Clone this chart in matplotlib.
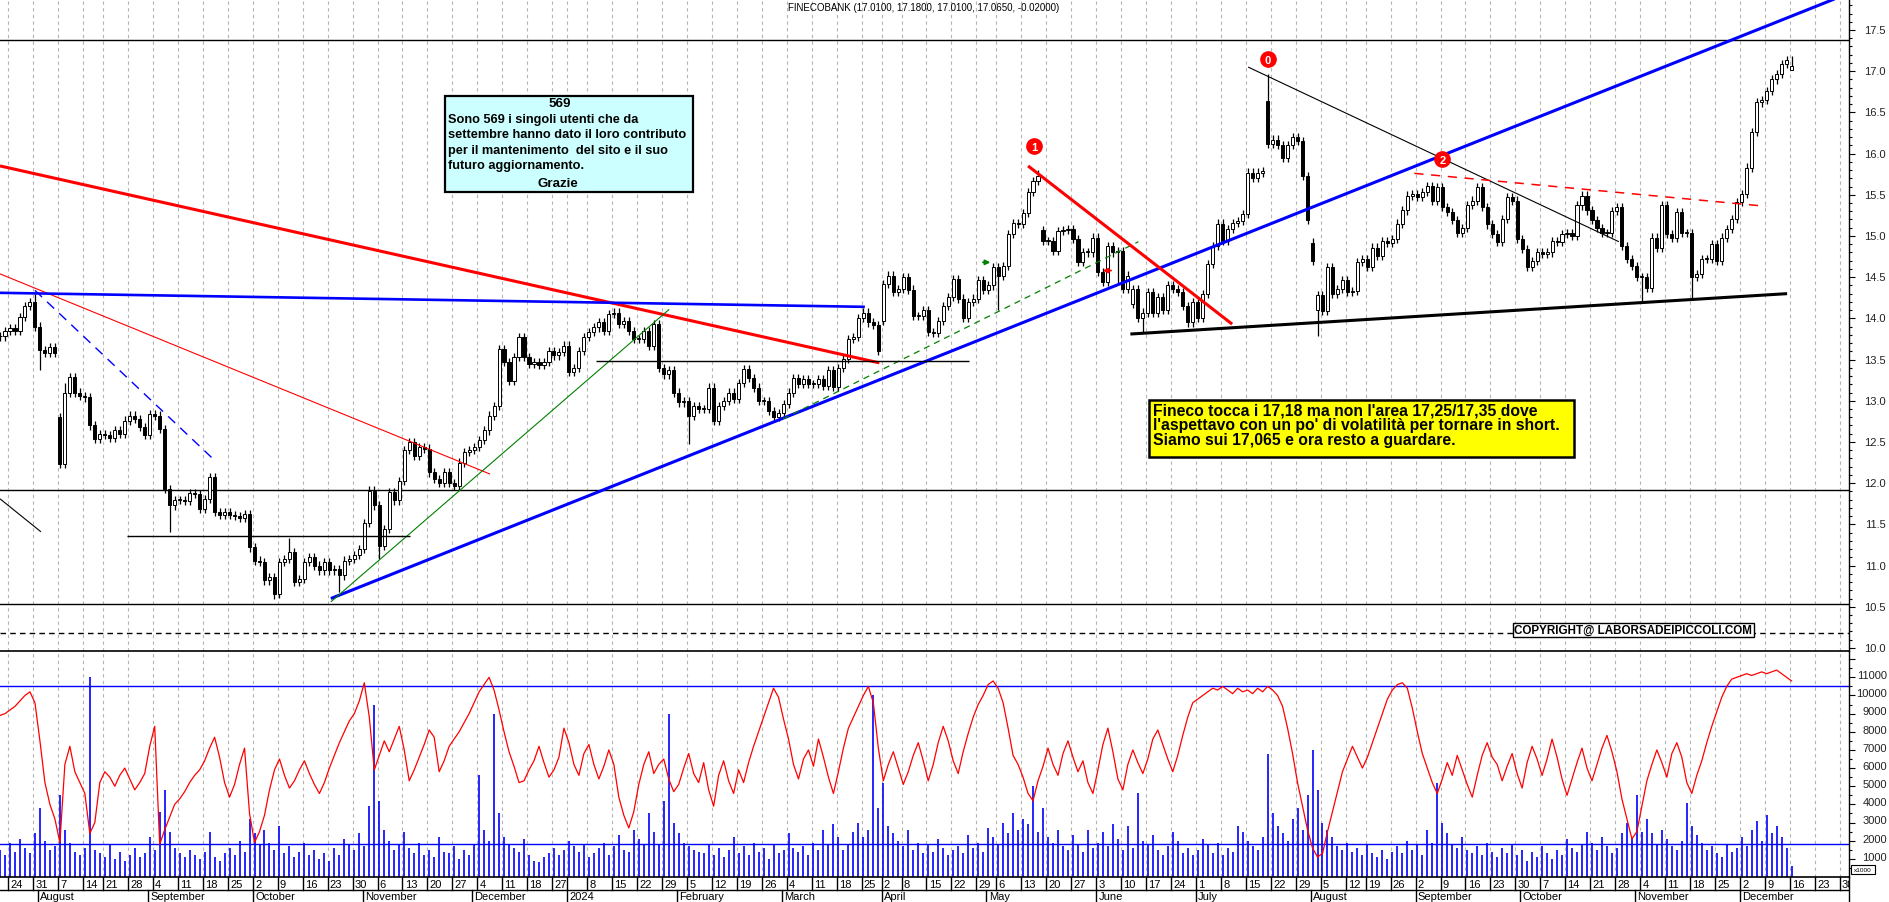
import matplotlib.pyplot as plt
import numpy as np
import pandas as pd
from matplotlib.patches import Rectangle

W, H = 1890, 903
RIGHT = 1849   # pixel x of the price scale

# daily closes, 20 Jul 2023 .. 16 Dec 2024
close = [
    13.78, 13.85, 13.88, 13.85, 14.02, 14.15, 14.20, 13.90, 13.62, 13.58,
    13.65, 13.58, 12.23, 13.10, 13.29, 13.10, 13.06, 13.04, 12.70, 12.54,
    12.60, 12.58, 12.55, 12.64, 12.60, 12.76, 12.82, 12.78, 12.68, 12.58,
    12.84, 12.82, 12.66, 11.93, 11.73, 11.80, 11.80, 11.78, 11.88, 11.87,
    11.69, 11.81, 12.07, 11.65, 11.61, 11.65, 11.61, 11.60, 11.58, 11.63,
    11.22, 11.06, 11.04, 10.82, 10.86, 10.66, 11.04, 11.08, 11.16, 10.80,
    10.84, 11.04, 11.10, 11.00, 10.94, 11.04, 10.94, 10.96, 10.88, 11.06,
    11.08, 11.13, 11.20, 11.52, 11.91, 11.73, 11.24, 11.44, 11.89, 11.79,
    12.03, 12.40, 12.50, 12.33, 12.44, 12.42, 12.13, 12.05, 12.00, 12.13,
    12.00, 11.97, 12.25, 12.38, 12.40, 12.44, 12.52, 12.64, 12.82, 12.94,
    13.63, 13.47, 13.24, 13.53, 13.77, 13.53, 13.45, 13.47, 13.43, 13.47,
    13.60, 13.55, 13.59, 13.67, 13.35, 13.40, 13.60, 13.77, 13.83, 13.89,
    13.95, 13.85, 14.05, 14.07, 13.93, 13.97, 13.85, 13.75,
    13.75, 13.85, 13.67, 13.93, 13.40, 13.32, 13.37, 13.10, 12.98, 13.00,
    12.82, 12.94, 12.90, 12.90, 13.16, 12.76, 12.94, 13.00, 13.10, 13.02,
    13.22, 13.38, 13.28, 13.16, 13.00, 13.00, 12.88, 12.80, 12.85, 12.96,
    13.10, 13.28, 13.20, 13.26, 13.20, 13.20, 13.26, 13.18, 13.37, 13.17,
    13.40, 13.51, 13.75, 13.77, 14.00, 14.07, 13.95, 13.92, 13.61, 14.42,
    14.52, 14.32, 14.36, 14.50, 14.35, 14.03, 14.03, 14.10, 13.83, 13.82,
    13.97, 14.15, 14.26, 14.48, 14.24, 14.00, 14.20, 14.24, 14.46, 14.34,
    14.40, 14.62, 14.52, 14.64, 15.02, 15.16, 15.15, 15.28, 15.53, 15.67,
    15.73, 14.94, 14.94, 14.82, 15.06, 15.07, 15.08, 14.96, 14.68, 14.80,
    14.80, 14.98, 14.56, 14.44, 14.88, 14.80, 14.82, 14.36, 14.52, 14.36,
    14.00, 14.07, 14.32, 14.07, 14.26, 14.10, 14.40, 14.36, 14.32, 14.15,
    13.95, 14.20, 14.00, 14.30, 14.66, 14.88, 15.15, 14.94, 15.08, 15.16,
    15.18, 15.27,
    15.77, 15.70, 15.77, 15.79, 16.12, 16.17, 16.10, 15.95, 16.10, 16.20,
    16.15, 15.73, 15.19, 14.70, 14.28, 14.09, 14.62, 14.30, 14.36, 14.46,
    14.32, 14.33, 14.68, 14.72, 14.62, 14.86, 14.76, 14.94, 14.92, 14.96,
    15.15, 15.31, 15.49, 15.51, 15.47, 15.53, 15.61, 15.43, 15.59, 15.35,
    15.29, 15.19, 15.04, 15.10, 15.38, 15.43, 15.59, 15.35, 15.14, 15.02,
    14.93, 15.21, 15.47, 15.43, 14.96, 14.84, 14.62, 14.70, 14.80, 14.78,
    14.80, 14.94, 14.93, 15.02, 15.04, 15.00, 15.37, 15.49, 15.31, 15.19,
    15.10, 15.04, 15.04, 15.30, 15.35, 14.88, 14.72, 14.64, 14.50, 14.50,
    14.37, 14.98, 14.86, 15.37, 15.02, 14.98, 15.29, 15.04, 15.04, 14.50,
    14.54, 14.72, 14.72, 14.90, 14.70, 14.98, 15.08, 15.21, 15.41, 15.51,
    15.83, 16.26, 16.62, 16.65, 16.76, 16.90, 16.97, 17.09, 17.13, 17.065,
]
# opens that differ from the previous close (gaps)
open_gap = {"2023-08-07": 12.80, "2024-04-02": 13.97, "2024-05-17": 15.07,
            "2024-06-12": 14.18, "2024-07-19": 16.64, "2024-08-01": 14.92,
            "2024-08-02": 14.10, "2024-12-16": 17.01}
high_fix = {"2023-07-31": 14.30, "2023-08-08": 13.22, "2023-10-11": 11.34,
            "2024-05-16": 15.80, "2024-07-19": 16.97, "2024-12-16": 17.18}
low_fix = {"2023-08-01": 13.37, "2023-09-07": 11.41, "2023-10-06": 10.60,
           "2023-10-25": 10.68, "2023-11-06": 11.08, "2024-02-05": 12.48,
           "2024-05-06": 14.10, "2024-06-07": 14.40, "2024-06-14": 13.83,
           "2024-08-02": 13.79, "2024-11-04": 14.19, "2024-11-18": 14.23,
           "2024-12-16": 17.01}

# volume (x1000) and the red oscillator drawn in the lower panel
volume = [
    1500, 1200, 1900, 1400, 2100, 1600, 1300, 2400, 3800, 2000,
    1500, 1700, 4500, 2600, 1900, 1400, 1200, 1600, 11000, 1500,
    1300, 1100, 1800, 1000, 1400, 900, 1200, 1600, 1100, 1300,
    2200, 1500, 3600, 4800, 2500, 1600, 1300, 1100, 1500, 1200,
    1000, 1400, 2500, 1100, 900, 1300, 1600, 1200, 2000, 1400,
    3200, 2400, 1800, 2600, 1900, 1500, 2800, 1300, 1700, 1100,
    1400, 1900, 1200, 1500, 1000, 1300, 900, 1600, 1200, 2100,
    1800, 1500, 2400, 1700, 3900, 9500, 4200, 2600, 2000, 1500,
    1800, 2500, 1600, 1300, 1900, 1200, 1500, 1100, 2200, 1400,
    1300, 1700, 1000, 1500, 1200, 1800, 5600, 2600, 2000, 9000,
    3500, 2200, 1800, 1600, 1400, 2100, 1200, 900, 800, 1100,
    1300, 1600, 1200, 1500, 2000, 1700, 1400, 1800, 1100, 1300,
    1600, 1900, 1200, 1700, 2300, 1500, 1400, 2600, 2100, 1800,
    3500, 2500, 1800, 4200, 9000, 3000, 2400, 1900, 1700, 1500,
    1400, 1300, 1800, 1200, 1600, 1100, 1500, 2200, 1300, 1700,
    1200, 1900, 1400, 1600, 1000, 1800, 1300, 1500, 2400, 1600,
    1400, 1700, 1200, 1900, 1500, 2600, 1800, 2900, 2200, 1500,
    1800, 2500, 3000, 2200, 2600, 10000, 3800, 5200, 2800, 2400,
    2000, 1700, 2600, 1500, 1900, 1300, 1800, 1400, 2100, 1600,
    1200, 1500, 1700, 1300, 2300, 1600, 1900, 1400, 2700, 2200,
    1800, 3000, 2400, 3500, 2600, 3200, 2900, 5000, 2500, 3800,
    2200, 1900, 2600, 1700, 1500, 2300, 1800, 1400, 2600, 1600,
    1900, 2500, 1700, 2900, 2100, 1500, 2800, 1600, 4600, 2000,
    1800, 2300, 1500, 1200, 1700, 2500, 2000, 1300, 1600, 1200,
    1500, 2100, 1800, 1300, 1900, 1200, 1600, 1400, 2800, 2500,
    2000, 1700, 1500, 2200, 6800, 3500, 2800, 2400, 2000, 3200,
    3800, 2600, 4500, 7000, 4800, 3000, 2600, 2200, 1700, 1500,
    1900, 1400, 1600, 1200, 1800, 1300, 1100, 1500, 1000, 1400,
    1700, 1300, 2000, 1500, 1800, 1200, 2600, 1900, 5200, 3000,
    2400, 1800, 1600, 2200, 1500, 1300, 1700, 1200, 1900, 1400,
    1100, 1600, 1300, 1800, 1200, 1500, 900, 1400, 1100, 1700,
    1300, 1000, 1500, 1200, 2100, 1600, 1400, 1800, 2500, 1900,
    1500, 2200, 1700, 1300, 1600, 2400, 3000, 2200, 4500, 2500,
    3200, 2400, 1800, 2600, 2100, 1700, 1500, 2000, 4100, 2800,
    2300, 1900, 1500, 1700, 1300, 1100, 1800, 1400, 1600, 2200,
    1700, 2600, 3100, 2000, 3400, 2400, 2800, 2200, 1600, 600,
]
osc = [
    8900, 9000, 9200, 9400, 9700, 10000, 10200, 9600, 7500, 5200,
    4000, 3200, 1900, 6200, 7200, 5800, 5200, 4600, 2400, 3000,
    5200, 5800, 5500, 5000, 5600, 6000, 5400, 4800, 5200, 5700,
    7200, 8300, 1800, 2600, 3300, 4000, 4300, 4700, 5200, 5600,
    5900, 6400, 7100, 7700, 6600, 5200, 4400, 5100, 6200, 7100,
    3500, 1900, 2500, 3400, 4800, 5900, 6500, 5600, 4900, 5300,
    5900, 6400, 5700, 5100, 4600, 5200, 6000, 6700, 7400, 8000,
    8600, 9000, 9700, 10700, 8800, 5900, 6700, 7500, 6900, 7600,
    8300, 7000, 5300, 5900, 6600, 7300, 8100, 7700, 5800, 6400,
    7200, 7600, 8000, 8500, 9000, 9600, 10200, 10600, 11000, 10300,
    9200, 8000, 6900, 6100, 5200, 5300, 5900, 6400, 7200, 6300,
    5500, 5900, 6600, 8200, 7400, 6200, 5600, 6800, 7300, 6200,
    5400, 6100, 7000, 6200, 4400, 3400, 2700, 3600, 5100, 6200,
    6900, 5700, 6200, 6500, 5400, 4700, 5100, 6000, 6800, 5700,
    5200, 6300, 4800, 3900, 5600, 6400, 5300, 4600, 5900, 5200,
    6300, 7200, 8000, 8800, 9600, 10400, 9900, 8700, 7600, 6200,
    5400, 6500, 7000, 6100, 7600, 6600, 5500, 4600, 5800, 7100,
    8200, 8800, 9400, 10000, 10500, 9600, 7100, 5300, 6200, 6900,
    6000, 5100, 5800, 6700, 7400, 6400, 5300, 6200, 7400, 8300,
    7500, 6400, 5700, 6900, 7900, 8800, 9500, 10000, 10600, 10800,
    10400, 9600, 8200, 6700, 6200, 5500, 4600, 4200, 5300, 6100,
    7100, 6200, 5600, 6800, 7500, 6600, 5800, 6400, 5200, 4600,
    5900, 7300, 8200, 6900, 5400, 4800, 6200, 7000, 6300, 5700,
    6500, 7600, 8100, 7300, 6500, 5800, 6700, 7800, 8800, 9600,
    9800, 10000, 10200, 10400, 10300, 10500, 10300, 10100, 10400, 10200,
    10300, 10100, 10400, 10200, 10500, 10300, 10000, 9400, 8200, 6800,
    5200, 3900, 2600, 1600, 1100, 1300, 2500, 3600, 4700, 5800,
    6500, 7200, 6600, 6000, 6600, 7400, 8200, 9000, 9800, 10300,
    10600, 10700, 10400, 9300, 8000, 6800, 6000, 5200, 4600, 5400,
    6300, 5600, 6700, 5900, 5100, 4400, 5600, 6700, 7400, 6600,
    6200, 5300, 6100, 6800, 5700, 4900, 6300, 7200, 6500, 5600,
    6500, 7600, 6600, 5400, 4500, 5400, 6300, 7100, 6000, 5300,
    6200, 7100, 7800, 6900, 5800, 4300, 3200, 2100, 2500, 3900,
    5300, 6200, 7000, 6300, 5500, 6800, 7400, 6600, 5200, 4600,
    5600, 6400, 7400, 8300, 9100, 9900, 10500, 10900, 11000, 11100,
    11200, 11100, 11200, 11300, 11200, 11300, 11400, 11200, 11000, 10800,
]

holidays = pd.to_datetime(["2023-08-15", "2023-12-25", "2023-12-26", "2024-01-01",
                           "2024-03-29", "2024-04-01", "2024-05-01", "2024-08-15"])
days = pd.bdate_range("2023-07-20", "2024-12-16")
days = days[~days.isin(holidays)]
alldays = days.append(pd.bdate_range("2024-12-17", "2025-01-10"))
n = len(days)
pos = np.arange(n)

c = np.array(close)
o = np.r_[c[0], c[:-1]]
for d, v in open_gap.items():
    o[days.get_loc(pd.Timestamp(d))] = v
hi = np.maximum(o, c) + 0.05
lo = np.minimum(o, c) - 0.05
for d, v in high_fix.items():
    hi[days.get_loc(pd.Timestamp(d))] = v
for d, v in low_fix.items():
    lo[days.get_loc(pd.Timestamp(d))] = v

# figure layout in pixels
fig = plt.figure(figsize=(W / 100, H / 100), dpi=100)
fig.patch.set_facecolor("white")
aw = RIGHT / W
ax = fig.add_axes([0, 1 - 652 / H, aw, 652 / H])
axv = fig.add_axes([0, 1 - 878 / H, aw, 226 / H])
axd = fig.add_axes([0, 0, aw, 25 / H])
XL = (0, 370.5)
for a in (ax, axv, axd):
    a.set_xlim(*XL)
    a.set_facecolor("none")
ax.set_ylim(9.963, 17.876)
axv.set_ylim(0, 12450)
axd.set_ylim(0, 25)

font = ["Liberation Sans", "DejaVu Sans"]

# weekly and monthly boundaries
ser = pd.Series(np.arange(len(alldays)), index=alldays)
week_first = ser.groupby(alldays.to_period("W")).first()
week_days = ser.groupby(alldays.to_period("W")).apply(lambda s: s.index[0])
month_first = ser.groupby(alldays.to_period("M")).first()
month_days = ser.groupby(alldays.to_period("M")).apply(lambda s: s.index[0])

for p in week_first.values:
    for a in (ax, axv):
        a.axvline(p - 0.35, color="#b4b4b4", lw=0.8, ls=(0, (3, 3)), zorder=0)

# candles
up = c >= o
ax.vlines(pos, lo, hi, color="black", lw=0.9, zorder=3)
body = np.maximum(np.abs(c - o), 0.012)
ax.bar(pos, body, bottom=np.minimum(o, c), width=0.62,
       color=np.where(up, "white", "black"), edgecolor="black", lw=0.7, zorder=3)

# horizontal levels
for lev in (17.38, 11.92, 10.53):
    ax.axhline(lev, color="black", lw=1.0, zorder=2)
ax.axhline(10.18, color="black", lw=1.0, ls=(0, (4, 3)), zorder=2)

# trend lines (bar index, price)
def seg(p0, v0, p1, v1, **kw):
    ax.plot([p0, p1], [v0, v1], solid_capstyle="butt", zorder=4, **kw)

seg(0, 15.85, 176.2, 13.46, color="red", lw=2.2)
seg(0, 14.54, 98.2, 12.11, color="red", lw=0.8)
seg(7.0, 14.34, 43.3, 12.26, color="blue", lw=1.0, ls=(0, (7, 5)))
seg(0, 11.81, 8.2, 11.41, color="black", lw=0.8)
seg(0, 14.31, 173.3, 14.14, color="blue", lw=1.9)
seg(66.3, 10.60, 372, 10.60 + (372 - 66.3) * 0.02415, color="blue", lw=2.2)
seg(66.3, 10.56, 134.1, 14.11, color="green", lw=0.8)
seg(156.9, 12.78, 228.1, 14.93, color="green", lw=0.9, ls=(0, (5, 4)))
seg(25.5, 11.36, 82.2, 11.36, color="black", lw=1.0)
seg(119.4, 13.48, 194.2, 13.48, color="black", lw=1.0)
seg(206.0, 15.85, 246.9, 13.93, color="red", lw=2.2)
seg(226.5, 13.81, 358.1, 14.30, color="black", lw=2.2)
seg(250.1, 17.05, 324.4, 14.93, color="black", lw=0.8)
seg(283.4, 15.76, 353.9, 15.36, color="red", lw=1.1, ls=(0, (6, 5)))

for p, v, lab in ((207.2, 16.09, "1"), (254.0, 17.15, "0"), (289.0, 15.93, "2")):
    ax.plot(p, v, "o", ms=11, color="red", zorder=6)
    ax.text(p, v - 0.01, lab, color="white", fontsize=8, fontweight="bold",
            ha="center", va="center", zorder=7, family=font)
ax.annotate("", xy=(199.0, 14.68), xytext=(196.4, 14.68), zorder=6,
            arrowprops=dict(arrowstyle="-|>", color="green", lw=1.3, mutation_scale=7))
ax.annotate("", xy=(220.4, 14.58), xytext=(223.2, 14.58), zorder=6,
            arrowprops=dict(arrowstyle="-|>", color="red", lw=1.3, mutation_scale=7))

# lower panel
axv.vlines(pos, 0, volume, color="#0000ff", lw=1.2, zorder=2)
axv.plot(pos, osc, color="red", lw=0.9, zorder=3)
axv.axhline(10500, color="#0000ff", lw=1.0, zorder=2)
axv.axhline(1810, color="#0000ff", lw=1.0, zorder=2)

# right scales
for a in (ax, axv):
    for s in ("top", "left"):
        a.spines[s].set_visible(False)
    a.spines["right"].set_linewidth(1.0)
    a.spines["bottom"].set_linewidth(1.2)
    a.yaxis.tick_right()
    a.tick_params(axis="y", which="major", length=4.5, width=0.8, labelright=False)
    a.tick_params(axis="y", which="minor", length=2.2, width=0.8)
    a.tick_params(axis="x", bottom=False, labelbottom=False)
ax.set_yticks(np.arange(10.0, 17.51, 0.5))
ax.set_yticks(np.arange(10.0, 17.85, 0.1), minor=True)
for v in np.arange(10.0, 17.51, 0.5):
    ax.text(1886 / RIGHT, v, f"{v:.1f}", transform=ax.get_yaxis_transform(),
            ha="right", va="center", fontsize=8, color="#222222", family=font)
axv.set_yticks(np.arange(1000, 12001, 1000))
axv.set_yticks(np.arange(500, 12400, 500), minor=True)
for v in range(1000, 11001, 1000):
    axv.text(1887 / RIGHT, v + 120, str(v), transform=axv.get_yaxis_transform(),
             ha="right", va="center", fontsize=8, color="#222222", family=font)

# date rows
for s in ("top", "left", "bottom"):
    axd.spines[s].set_visible(False)
axd.spines["right"].set_linewidth(1.0)
axd.set_xticks([])
axd.set_yticks([])
axd.axhline(12.3, color="black", lw=1.0)
for p, d in zip(week_first.values, week_days.values):
    d = pd.Timestamp(d)
    if p == 0:
        continue
    x = p - 0.35
    axd.plot([x, x], [12.3, 25], color="black", lw=1.0, clip_on=True)
    if not (d.month == 1 and d.day <= 3):
        axd.text(x + 0.45, 18.4, str(d.day), fontsize=8, ha="left", va="center",
                 family=font, clip_on=True)
months = ["", "January", "February", "March", "April", "May", "June", "July",
          "August", "September", "October", "November", "December"]
for p, d in zip(month_first.values, month_days.values):
    d = pd.Timestamp(d)
    if p == 0:
        continue
    x = p - 0.35
    axd.plot([x, x], [0, 12.3], color="black", lw=1.0, clip_on=True)
    lab = str(d.year) if d.month == 1 else months[d.month]
    axd.text(x + 0.45, 5.6, lab, fontsize=8, ha="left", va="center",
             family=font, clip_on=True)

# title, notes and boxes (pixel coordinates)
def box(x0, y0, x1, y1, fc, lw):
    fig.add_artist(Rectangle((x0 / W, 1 - y1 / H), (x1 - x0) / W, (y1 - y0) / H,
                             transform=fig.transFigure, facecolor=fc,
                             edgecolor="black", lw=lw, zorder=10))

def ptext(x, y, s, **kw):
    fig.text(x / W, 1 - y / H, s, va="center", zorder=11, **kw)

ptext(924, 8, "FINECOBANK (17.0100, 17.1800, 17.0100, 17.0650, -0.02000)",
      ha="center", fontsize=7, family=font)

box(445, 97, 693, 193, "#ccffff", 1.6)
ptext(560, 104, "569", ha="center", fontsize=9.6, fontweight="bold", family=font)
note = ["Sono 569 i singoli utenti che da",
        "settembre hanno dato il loro contributo",
        "per il mantenimento  del sito e il suo",
        "futuro aggiornamento."]
for k, line in enumerate(note):
    ptext(448, 120 + k * 15.5, line, ha="left", fontsize=9.2, fontweight="bold", family=font)
ptext(558, 184, "Grazie", ha="center", fontsize=9.6, fontweight="bold", family=font)

box(1149, 401, 1574, 458, "#ffff00", 1.8)
yel = ["Fineco tocca i 17,18 ma non l'area 17,25/17,35 dove",
       "l'aspettavo con un po' di volatilità per tornare in short.",
       "Siamo sui 17,065 e ora resto a guardare."]
for k, line in enumerate(yel):
    ptext(1153, 411 + k * 14.6, line, ha="left", fontsize=11.3, fontweight="bold", family=font)

box(1513, 624, 1754, 638, "white", 1.0)
ptext(1633, 631, "COPYRIGHT@ LABORSADEIPICCOLI.COM", ha="center", fontsize=8.4,
      fontweight="bold", family=font)

box(1851, 866, 1875, 875, "white", 0.8)
ptext(1863, 870.5, "x1000", ha="center", fontsize=4.6, family=font)

fig.savefig("out.png", dpi=100)
